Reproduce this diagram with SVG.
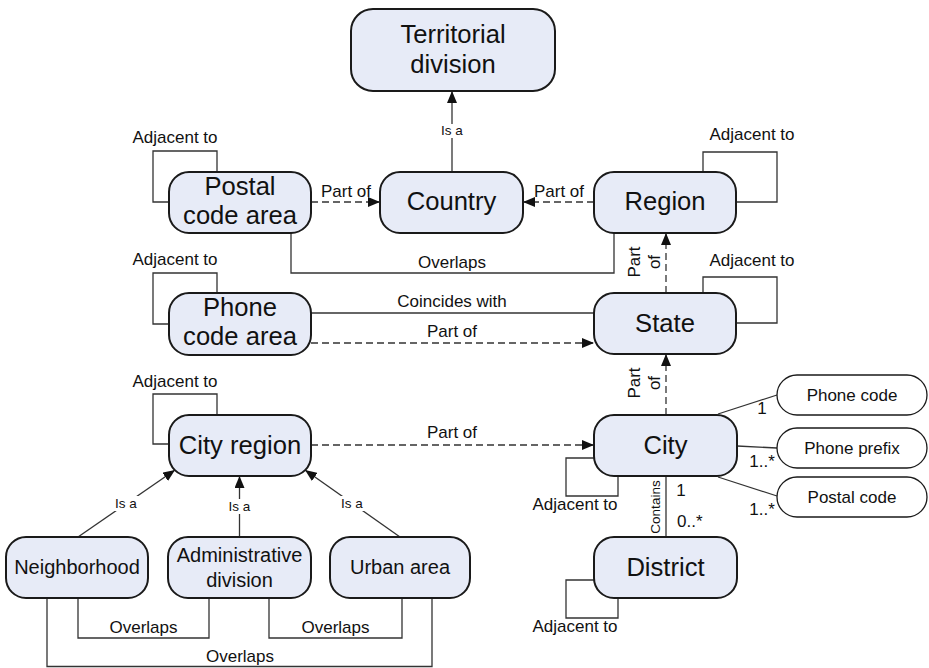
<svg xmlns="http://www.w3.org/2000/svg" width="929" height="668" viewBox="0 0 929 668">
  <defs>
    <marker id="arrow" viewBox="0 0 12 10" refX="12" refY="5" markerWidth="12" markerHeight="10" markerUnits="userSpaceOnUse" orient="auto">
      <path d="M0,0 L12,5 L0,10 Z" fill="#111"/>
    </marker>
    <style>
      .node { fill: #E7EBF7; stroke: #1a1a1a; stroke-width: 2; }
      .pill { fill: #ffffff; stroke: #1a1a1a; stroke-width: 1.3; }
      .line { fill: none; stroke: #333; stroke-width: 1.3; }
      .dash { fill: none; stroke: #333; stroke-width: 1.3; stroke-dasharray: 7 4; }
      .big { font-family: "Liberation Sans", Arial, Helvetica, sans-serif; font-size: 25.6px; fill: #111; text-anchor: middle; }
      .mid { font-family: "Liberation Sans", Arial, Helvetica, sans-serif; font-size: 20px; fill: #111; text-anchor: middle; }
      .lbl { font-family: "Liberation Sans", Arial, Helvetica, sans-serif; font-size: 17px; fill: #111; text-anchor: middle; }
      .sml { font-family: "Liberation Sans", Arial, Helvetica, sans-serif; font-size: 13.5px; fill: #111; text-anchor: middle; }
      .bg { fill: #ffffff; }
    </style>
  </defs>

  <!-- connectors -->
  <g id="connectors">
    <!-- Country is a Territorial division -->
    <line class="line" x1="452" y1="172" x2="452" y2="91" marker-end="url(#arrow)"/>
    <rect class="bg" x="440" y="124" width="24" height="14"/>
    <text class="sml" x="452" y="135">Is a</text>

    <!-- Postal code area part of Country -->
    <line class="dash" x1="311" y1="202" x2="380" y2="202" marker-end="url(#arrow)"/>
    <text class="lbl" x="346" y="197">Part of</text>

    <!-- Region part of Country -->
    <line class="dash" x1="594" y1="202" x2="523" y2="202" marker-end="url(#arrow)"/>
    <text class="lbl" x="559" y="197">Part of</text>

    <!-- Postal code area overlaps Region -->
    <path class="line" d="M291,233 V273 H614 V233"/>
    <text class="lbl" x="452" y="268">Overlaps</text>

    <!-- State part of Region -->
    <line class="dash" x1="666" y1="293" x2="666" y2="233" marker-end="url(#arrow)"/>
    <text class="lbl" transform="translate(640,262) rotate(-90)">Part</text>
    <text class="lbl" transform="translate(660,262) rotate(-90)">of</text>

    <!-- Adjacent-to loops -->
    <path class="line" d="M169,202 H153 V151 H217 V172"/>
    <text class="lbl" x="175" y="143">Adjacent to</text>
    <path class="line" d="M703,172 V152 H777 V202 H736"/>
    <text class="lbl" x="752" y="140">Adjacent to</text>
    <path class="line" d="M703,293 V277 H777 V323 H736"/>
    <text class="lbl" x="752" y="266">Adjacent to</text>
    <path class="line" d="M169,324 H153 V273 H217 V293"/>
    <text class="lbl" x="175" y="265">Adjacent to</text>
    <path class="line" d="M169,444 H153 V394 H217 V415"/>
    <text class="lbl" x="175" y="387">Adjacent to</text>
    <path class="line" d="M594,458 H566 V496 H618 V476"/>
    <text class="lbl" x="575" y="510">Adjacent to</text>
    <path class="line" d="M594,580 H566 V618 H618 V598"/>
    <text class="lbl" x="575" y="632">Adjacent to</text>

    <!-- Phone code area and State -->
    <line class="line" x1="311" y1="313" x2="594" y2="313"/>
    <text class="lbl" x="452" y="307">Coincides with</text>
    <line class="dash" x1="311" y1="343" x2="594" y2="343" marker-end="url(#arrow)"/>
    <text class="lbl" x="452" y="337">Part of</text>

    <!-- City region part of City -->
    <line class="dash" x1="311" y1="445" x2="594" y2="445" marker-end="url(#arrow)"/>
    <text class="lbl" x="452" y="438">Part of</text>

    <!-- City part of State -->
    <line class="dash" x1="666" y1="415" x2="666" y2="354" marker-end="url(#arrow)"/>
    <text class="lbl" transform="translate(640,383) rotate(-90)">Part</text>
    <text class="lbl" transform="translate(660,383) rotate(-90)">of</text>

    <!-- City attributes -->
    <line class="line" x1="718" y1="414" x2="777" y2="395"/>
    <text class="lbl" x="762" y="414">1</text>
    <line class="line" x1="737" y1="446" x2="777" y2="448"/>
    <text class="lbl" x="762" y="467">1..*</text>
    <line class="line" x1="718" y1="477" x2="777" y2="496"/>
    <text class="lbl" x="762" y="515">1..*</text>

    <!-- City contains District -->
    <line class="line" x1="666" y1="476" x2="666" y2="537"/>
    <text class="sml" transform="translate(660,507) rotate(-90)">Contains</text>
    <text class="lbl" x="681" y="496">1</text>
    <text class="lbl" x="677" y="527" style="text-anchor:start">0..*</text>

    <!-- Is a City region -->
    <line class="line" x1="78" y1="537" x2="175" y2="470" marker-end="url(#arrow)"/>
    <rect class="bg" x="113" y="496" width="26" height="15"/>
    <text class="sml" x="126" y="508">Is a</text>
    <line class="line" x1="239.5" y1="537" x2="239.5" y2="476" marker-end="url(#arrow)"/>
    <rect class="bg" x="227" y="499" width="25" height="15"/>
    <text class="sml" x="239.5" y="511">Is a</text>
    <line class="line" x1="400" y1="537" x2="305" y2="470" marker-end="url(#arrow)"/>
    <rect class="bg" x="339" y="496" width="26" height="15"/>
    <text class="sml" x="352" y="508">Is a</text>

    <!-- Overlaps among city region kinds -->
    <path class="line" d="M78,598 V638 H209 V598"/>
    <text class="lbl" x="143.5" y="633">Overlaps</text>
    <path class="line" d="M269,598 V638 H402 V598"/>
    <text class="lbl" x="335.5" y="633">Overlaps</text>
    <path class="line" d="M47,598 V666.5 H432 V598"/>
    <text class="lbl" x="240" y="662">Overlaps</text>
  </g>

  <!-- nodes -->
  <g id="territorial-division">
    <rect class="node" x="351" y="9" width="204" height="82" rx="22"/>
    <text class="big" x="453" y="43">Territorial</text>
    <text class="big" x="453" y="73">division</text>
  </g>
  <g id="postal-code-area">
    <rect class="node" x="169" y="172" width="142" height="61" rx="20"/>
    <text class="big" x="240" y="195">Postal</text>
    <text class="big" x="240" y="224">code area</text>
  </g>
  <g id="country">
    <rect class="node" x="380" y="172" width="143" height="61" rx="20"/>
    <text class="big" x="451.5" y="210">Country</text>
  </g>
  <g id="region">
    <rect class="node" x="594" y="172" width="142" height="61" rx="20"/>
    <text class="big" x="665" y="210">Region</text>
  </g>
  <g id="phone-code-area">
    <rect class="node" x="169" y="293" width="142" height="62" rx="20"/>
    <text class="big" x="240" y="316">Phone</text>
    <text class="big" x="240" y="345">code area</text>
  </g>
  <g id="state">
    <rect class="node" x="594" y="293" width="142" height="61" rx="20"/>
    <text class="big" x="665" y="332">State</text>
  </g>
  <g id="city-region">
    <rect class="node" x="169" y="415" width="142" height="61" rx="20"/>
    <text class="big" x="240" y="454">City region</text>
  </g>
  <g id="city">
    <rect class="node" x="594" y="415" width="143" height="61" rx="20"/>
    <text class="big" x="665.5" y="454">City</text>
  </g>
  <g id="district">
    <rect class="node" x="594" y="537" width="143" height="61" rx="20"/>
    <text class="big" x="665.5" y="576">District</text>
  </g>
  <g id="neighborhood">
    <rect class="node" x="6" y="537" width="142" height="61" rx="20"/>
    <text class="mid" x="77" y="574">Neighborhood</text>
  </g>
  <g id="administrative-division">
    <rect class="node" x="168" y="537" width="143" height="61" rx="20"/>
    <text class="mid" x="239.5" y="562">Administrative</text>
    <text class="mid" x="239.5" y="587">division</text>
  </g>
  <g id="urban-area">
    <rect class="node" x="330" y="537" width="140" height="61" rx="20"/>
    <text class="mid" x="400" y="574">Urban area</text>
  </g>
  <g id="phone-code">
    <rect class="pill" x="777" y="375" width="150" height="40" rx="20"/>
    <text class="lbl" x="852" y="401">Phone code</text>
  </g>
  <g id="phone-prefix">
    <rect class="pill" x="777" y="428" width="150" height="40" rx="20"/>
    <text class="lbl" x="852" y="454">Phone prefix</text>
  </g>
  <g id="postal-code">
    <rect class="pill" x="777" y="477" width="150" height="40" rx="20"/>
    <text class="lbl" x="852" y="503">Postal code</text>
  </g>
</svg>
